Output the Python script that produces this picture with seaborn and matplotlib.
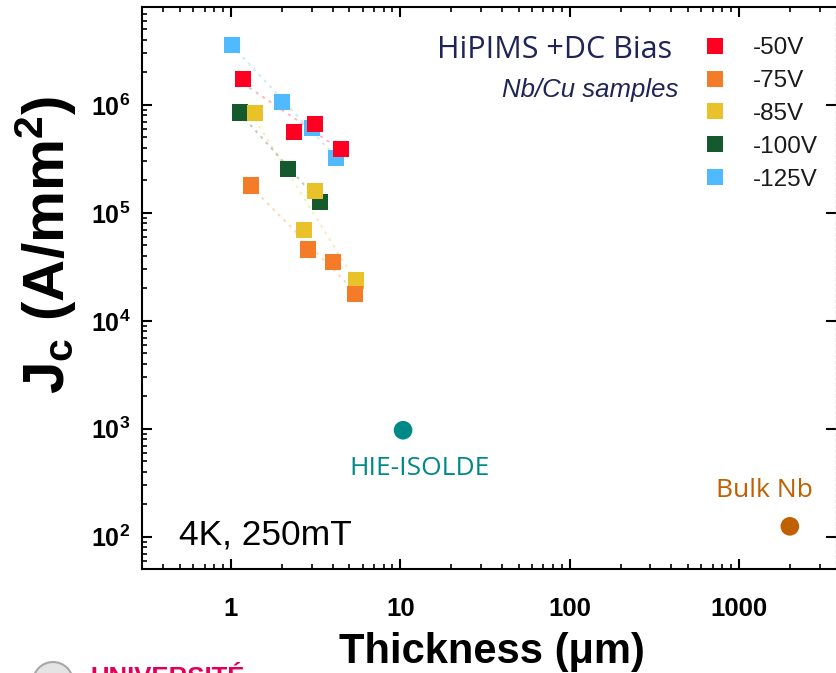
import numpy as np
import pandas as pd
import matplotlib
matplotlib.use("Agg")
import matplotlib.pyplot as plt
import seaborn as sns
from matplotlib.lines import Line2D
from matplotlib.patches import Circle
from matplotlib.ticker import NullFormatter

# ---- data -------------------------------------------------------------
bias_levels = ["-50V", "-75V", "-85V", "-100V", "-125V"]
bias_colors = ["#ff0022", "#f47b28", "#e9c22a", "#145a2c", "#4fbaff"]

thick_50 = [1.18, 2.36, 3.13, 4.46]
jc_50 = [1.73e6, 5.64e5, 6.7e5, 3.89e5]
thick_75 = [1.31, 2.85, 3.99, 5.40]
jc_75 = [1.79e5, 4.57e4, 3.53e4, 1.77e4]
thick_85 = [1.39, 2.70, 3.13, 5.47]
jc_85 = [8.4e5, 6.95e4, 1.60e5, 2.36e4]
thick_100 = [1.13, 2.18, 3.37]
jc_100 = [8.5e5, 2.56e5, 1.27e5]
thick_125 = [1.02, 2.01, 3.00, 4.17]
jc_125 = [3.56e6, 1.06e6, 6.15e5, 3.19e5]

ref_names = ["HIE-ISOLDE", "Bulk Nb"]
ref_thick = [10.4, 2000]
ref_jc = [970, 125]
ref_colors = ["#008a87", "#c06000"]

x_ticks = [1, 10, 100, 1000]
x_ticklabels = ["1", "10", "100", "1000"]
y_ticks = [1e2, 1e3, 1e4, 1e5, 1e6]
y_ticklabels = [r"$\mathbf{10^{2}}$", r"$\mathbf{10^{3}}$", r"$\mathbf{10^{4}}$",
                r"$\mathbf{10^{5}}$", r"$\mathbf{10^{6}}$"]

# ---- style ------------------------------------------------------------
sns.set_theme(style="ticks")
plt.rcParams["font.family"] = ["Liberation Sans", "DejaVu Sans"]
plt.rcParams["mathtext.fontset"] = "custom"
plt.rcParams["mathtext.rm"] = "Liberation Sans"
plt.rcParams["mathtext.it"] = "Liberation Sans:italic"
plt.rcParams["mathtext.bf"] = "Liberation Sans:bold"
for key in ["text.color", "axes.labelcolor", "xtick.color", "ytick.color",
            "xtick.labelcolor", "ytick.labelcolor"]:
    plt.rcParams[key] = "black"

# long table; -125V drawn first so that -50V ends up on top
series = dict(zip(bias_levels, [(thick_50, jc_50), (thick_75, jc_75), (thick_85, jc_85),
                                (thick_100, jc_100), (thick_125, jc_125)]))
df = pd.concat(
    [pd.DataFrame({"thickness": series[b][0], "jc": series[b][1], "bias": b})
     for b in bias_levels[::-1]],
    ignore_index=True,
)

# power-law trend per bias, spanning each series' thickness range
trend = []
for b in bias_levels:
    lx = np.log10(series[b][0])
    ly = np.log10(series[b][1])
    k, c = np.polyfit(lx, ly, 1)
    xs = np.array([lx.min(), lx.max()])
    trend.append(pd.DataFrame({"thickness": 10 ** xs, "jc": 10 ** (k * xs + c), "bias": b}))
trend = pd.concat(trend, ignore_index=True)

refs = pd.DataFrame({"thickness": ref_thick, "jc": ref_jc, "name": ref_names})

fig = plt.figure(figsize=(8.36, 6.73), dpi=100)
ax = fig.add_axes([142.3 / 836, 1 - 569.3 / 673, 693.3 / 836, 562 / 673])
ax.set_xscale("log")
ax.set_yscale("log")

pal = dict(zip(bias_levels, bias_colors))
sns.lineplot(data=trend, x="thickness", y="jc", hue="bias", palette=pal,
             estimator=None, sort=False, legend=False, ax=ax,
             linestyle=(0, (1.5, 2.5)), linewidth=1.4, alpha=0.3, zorder=2)
sns.scatterplot(data=df, x="thickness", y="jc", hue="bias", palette=pal,
                marker="s", s=135, linewidth=0, legend=False, ax=ax, zorder=3)
sns.scatterplot(data=refs, x="thickness", y="jc", hue="name",
                palette=dict(zip(ref_names, ref_colors)),
                marker="o", s=180, linewidth=0, legend=False, ax=ax, zorder=3)

ax.set_xlim(0.3, 3725)
ax.set_ylim(50, 8e6)

# ---- axes decoration --------------------------------------------------
ax.set_xticks(x_ticks)
ax.set_xticklabels(x_ticklabels, fontweight="bold")
ax.set_yticks(y_ticks)
ax.set_yticklabels(y_ticklabels)
ax.xaxis.set_minor_formatter(NullFormatter())
ax.yaxis.set_minor_formatter(NullFormatter())

for side in ["left", "bottom", "top"]:
    ax.spines[side].set_linewidth(1.5)
    ax.spines[side].set_color("black")
ax.spines["right"].set_color("#bbbbbb")
ax.spines["right"].set_linewidth(1.0)
ax.spines["right"].set_linestyle((0, (2, 2)))

ax.tick_params(which="both", direction="in", top=True, right=True, color="black")
ax.tick_params(which="major", length=7.5, width=1.5)
ax.tick_params(which="minor", length=3.8, width=1.2, right=False)
ax.tick_params(axis="x", which="major", pad=20, labelsize=18.5)
ax.tick_params(axis="y", which="major", pad=8.5, labelsize=18)

ax.set_xlabel("Thickness (μm)", fontsize=30, fontweight="bold")
ax.xaxis.label.set_va("center")
ax.xaxis.set_label_coords(0.504, -0.147)
ax.set_ylabel(r"$\mathbf{J_c\ (A/mm^2)}$", fontsize=42)
ax.yaxis.label.set_va("center")
ax.yaxis.set_label_coords(-0.138, 0.577)

# ---- legend and annotations -------------------------------------------
handles = [Line2D([], [], marker="s", linestyle="", markersize=11.5,
                  markerfacecolor=c, markeredgewidth=0) for c in bias_colors]
ax.legend(handles, bias_levels, loc="upper left", bbox_to_anchor=(0.814, 0.947),
          frameon=False, fontsize=17.5, handlelength=0.7, handletextpad=1.2,
          labelspacing=0.45, borderpad=0, borderaxespad=0, labelcolor="#1a1a1a")

navy = "#1f2356"
ax.text(0.764, 0.910, "HiPIMS +DC Bias", transform=ax.transAxes, ha="right",
        va="baseline", fontsize=22, color=navy, family=["Open Sans", "DejaVu Sans"])
ax.text(0.773, 0.840, "Nb/Cu samples", transform=ax.transAxes, ha="right",
        va="baseline", fontsize=18.5, color=navy, style="italic")
ax.text(0.053, 0.0433, "4K, 250mT", transform=ax.transAxes, ha="left",
        va="baseline", fontsize=25.5, color="black")

label_offsets = [(12, -32), (-18, 21)]
for name, x, y, c, off in zip(ref_names, ref_thick, ref_jc, ref_colors, label_offsets):
    ax.annotate(name, (x, y), xytext=off, textcoords="offset points", ha="center",
                va="baseline", fontsize=19, color=c, family=["Open Sans", "DejaVu Sans"])

# university mark along the lower edge
fig.patches.append(Circle((0.53, -0.09), 0.2, transform=fig.dpi_scale_trans,
                          facecolor="#e4e4e4", edgecolor="#a8a8a8", linewidth=1.5))
fig.text(91 / 836, (673 - 685) / 673, "UNIVERSITÉ", color="#e0005a", fontsize=18.5,
         fontweight="bold", ha="left", va="baseline")

fig.savefig("out.png", dpi=100)
